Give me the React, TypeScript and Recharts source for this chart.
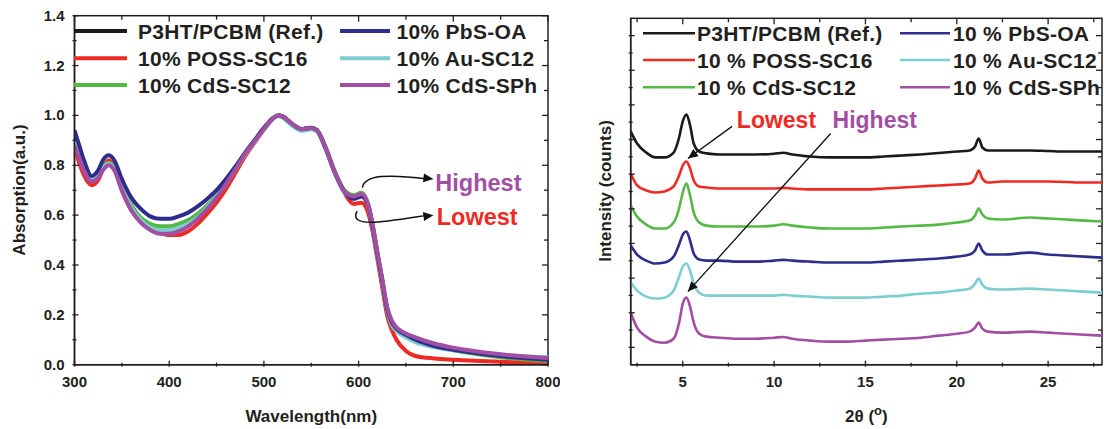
import { LineChart, Line, XAxis, YAxis, Legend, ReferenceLine, ReferenceDot, ReferenceArea } from 'recharts'

const INK = '#231f20'
const FONT = '"Liberation Sans", Arial, Helvetica, sans-serif'

// series order: Ref, POSS-SC16, CdS-SC12, PbS-OA, Au-SC12, CdS-SPh
const seriesKeys = ['ref', 'poss', 'cds12', 'pbs', 'au', 'cdssph']
const seriesColors = ['#1a1a1a', '#ee2a24', '#55b946', '#2e2d8c', '#7dcfcf', '#a24ea4']
const uvNames = ['P3HT/PCBM (Ref.)', '10% POSS-SC16', '10% CdS-SC12', '10% PbS-OA', '10% Au-SC12', '10% CdS-SPh']
const xrdNames = ['P3HT/PCBM (Ref.)', '10 % POSS-SC16', '10 % CdS-SC12', '10 % PbS-OA', '10 % Au-SC12', '10 % CdS-SPh']
const drawOrder = [0, 1, 2, 4, 3, 5]

// ---- UV-vis absorption (normalised) ----
const wavelength = [300, 305, 310, 318, 325, 330, 336, 342, 350, 360, 370, 380, 390, 400, 410, 420, 430, 440, 450, 460, 470, 480, 490, 500, 510, 515, 520, 530, 540, 550, 556, 565, 575, 585, 595, 603, 610, 615, 620, 625, 630, 635, 640, 650, 660, 680, 700, 750, 800]
const absRef = [0.9, 0.84, 0.79, 0.74, 0.755, 0.785, 0.805, 0.785, 0.705, 0.625, 0.575, 0.545, 0.53, 0.53, 0.54, 0.56, 0.59, 0.63, 0.675, 0.728, 0.787, 0.846, 0.896, 0.946, 0.99, 1.0, 0.995, 0.965, 0.945, 0.95, 0.94, 0.87, 0.77, 0.695, 0.67, 0.68, 0.64, 0.55, 0.44, 0.335, 0.225, 0.17, 0.145, 0.12, 0.105, 0.08, 0.062, 0.038, 0.024]
const absPoss = [0.87, 0.81, 0.76, 0.72, 0.74, 0.785, 0.82, 0.79, 0.7, 0.62, 0.575, 0.545, 0.53, 0.52, 0.52, 0.535, 0.565, 0.605, 0.65, 0.705, 0.77, 0.835, 0.89, 0.942, 0.988, 1.0, 0.995, 0.965, 0.945, 0.95, 0.94, 0.87, 0.77, 0.69, 0.645, 0.65, 0.61, 0.53, 0.42, 0.31, 0.2, 0.14, 0.1, 0.055, 0.035, 0.025, 0.02, 0.012, 0.008]
const absCds12 = [0.89, 0.835, 0.785, 0.745, 0.76, 0.79, 0.81, 0.79, 0.715, 0.64, 0.59, 0.565, 0.555, 0.555, 0.565, 0.58, 0.605, 0.64, 0.68, 0.73, 0.788, 0.846, 0.896, 0.946, 0.99, 1.0, 0.995, 0.965, 0.945, 0.952, 0.942, 0.875, 0.775, 0.7, 0.68, 0.69, 0.645, 0.555, 0.445, 0.34, 0.23, 0.172, 0.146, 0.118, 0.1, 0.075, 0.058, 0.03, 0.015]
const absPbs = [0.94, 0.88, 0.82, 0.757, 0.78, 0.82, 0.84, 0.82, 0.745, 0.67, 0.625, 0.595, 0.585, 0.585, 0.595, 0.61, 0.635, 0.665, 0.7, 0.745, 0.795, 0.85, 0.9, 0.95, 0.99, 1.0, 0.995, 0.965, 0.945, 0.95, 0.94, 0.87, 0.77, 0.695, 0.665, 0.675, 0.64, 0.55, 0.44, 0.335, 0.225, 0.17, 0.145, 0.12, 0.1, 0.075, 0.06, 0.035, 0.02]
const absAu = [0.905, 0.85, 0.8, 0.75, 0.765, 0.79, 0.805, 0.785, 0.71, 0.63, 0.58, 0.55, 0.54, 0.54, 0.55, 0.565, 0.59, 0.63, 0.675, 0.725, 0.784, 0.843, 0.893, 0.943, 0.988, 1.0, 0.99, 0.958, 0.938, 0.945, 0.935, 0.865, 0.765, 0.69, 0.67, 0.68, 0.638, 0.545, 0.435, 0.33, 0.22, 0.16, 0.135, 0.11, 0.09, 0.07, 0.058, 0.04, 0.03]
const absCdssph = [0.88, 0.83, 0.78, 0.735, 0.75, 0.78, 0.8, 0.78, 0.7, 0.62, 0.57, 0.54, 0.525, 0.525, 0.535, 0.555, 0.585, 0.625, 0.67, 0.725, 0.785, 0.845, 0.895, 0.945, 0.99, 1.0, 0.995, 0.965, 0.945, 0.95, 0.94, 0.87, 0.77, 0.695, 0.675, 0.685, 0.645, 0.56, 0.45, 0.345, 0.235, 0.178, 0.15, 0.125, 0.11, 0.085, 0.068, 0.042, 0.027]
const uvDomainX: [number, number] = [300, 800]
const uvDomainY: [number, number] = [0, 1.4]
const uvTicksX = [300, 350, 400, 450, 500, 550, 600, 650, 700, 750, 800]
const uvTicksY = [0, 0.1, 0.2, 0.3, 0.4, 0.5, 0.6, 0.7, 0.8, 0.9, 1.0, 1.1, 1.2, 1.3, 1.4]

// ---- XRD (stacked, arbitrary counts) ----
const twoTheta = [2.15, 2.5, 3, 3.5, 4, 4.5, 4.8, 5.0, 5.2, 5.4, 5.6, 5.9, 6.3, 7, 8, 9, 10, 10.5, 11, 12, 13, 14, 15, 16, 17, 18, 19, 20, 20.7, 21.0, 21.2, 21.4, 21.7, 22.5, 24, 25, 26, 27, 27.95]
const xrdRef = [13.47, 12.77, 12.25, 11.97, 11.97, 12.25, 13.12, 14.05, 14.45, 13.82, 12.77, 12.31, 12.2, 12.14, 12.14, 12.14, 12.18, 12.24, 12.14, 12.02, 11.97, 11.97, 11.97, 12.02, 12.08, 12.14, 12.22, 12.31, 12.37, 12.6, 13.06, 12.54, 12.37, 12.37, 12.37, 12.34, 12.31, 12.31, 12.31]
const xrdPoss = [11.04, 10.35, 10.06, 9.94, 10.0, 10.29, 10.92, 11.5, 11.73, 11.33, 10.64, 10.29, 10.23, 10.17, 10.17, 10.17, 10.17, 10.21, 10.17, 10.12, 10.12, 10.12, 10.12, 10.17, 10.23, 10.29, 10.35, 10.4, 10.46, 10.75, 11.21, 10.75, 10.52, 10.58, 10.58, 10.58, 10.55, 10.52, 10.52]
const xrdCds12 = [9.19, 8.55, 8.09, 7.86, 7.86, 8.21, 9.02, 9.94, 10.46, 9.77, 8.79, 8.21, 8.03, 7.98, 7.98, 7.98, 8.03, 8.11, 8.03, 7.92, 7.86, 7.86, 7.86, 7.92, 7.98, 8.03, 8.09, 8.21, 8.32, 8.61, 9.02, 8.67, 8.44, 8.38, 8.5, 8.44, 8.38, 8.32, 8.27]
const xrdPbs = [6.88, 6.36, 6.01, 5.84, 5.9, 6.24, 6.94, 7.51, 7.69, 7.17, 6.42, 6.07, 6.01, 6.01, 5.95, 5.95, 6.01, 6.05, 6.01, 5.95, 5.9, 5.9, 5.9, 5.95, 6.01, 6.07, 6.13, 6.24, 6.36, 6.59, 7.0, 6.59, 6.36, 6.36, 6.47, 6.36, 6.3, 6.24, 6.18]
const xrdAu = [4.74, 4.28, 3.93, 3.82, 3.87, 4.28, 5.09, 5.66, 5.84, 5.43, 4.68, 4.16, 3.99, 3.99, 3.99, 3.99, 3.99, 4.03, 3.99, 3.93, 3.87, 3.87, 3.87, 3.93, 3.99, 4.1, 4.16, 4.28, 4.39, 4.68, 4.97, 4.62, 4.39, 4.34, 4.39, 4.34, 4.28, 4.22, 4.16]
const xrdCdssph = [3.01, 2.14, 1.62, 1.33, 1.27, 1.5, 2.43, 3.53, 3.87, 3.35, 2.43, 1.79, 1.62, 1.56, 1.5, 1.5, 1.56, 1.6, 1.5, 1.39, 1.33, 1.33, 1.39, 1.45, 1.5, 1.56, 1.68, 1.79, 1.91, 2.14, 2.43, 2.08, 1.91, 1.85, 1.91, 1.85, 1.79, 1.73, 1.68]
const xrdDomainX: [number, number] = [2.15, 27.95]
const xrdDomainY: [number, number] = [0, 20]
const xrdTicksX = [2.5, 5, 7.5, 10, 12.5, 15, 17.5, 20, 22.5, 25, 27.5]
const xrdTicksY = [1, 2, 3, 4, 5, 6, 7, 8, 9, 10, 11, 12, 13, 14, 15, 16, 17, 18, 19]

const uvData = wavelength.map((w, i) => ({
  x: w, ref: absRef[i], poss: absPoss[i], cds12: absCds12[i], pbs: absPbs[i], au: absAu[i], cdssph: absCdssph[i],
}))
const xrdData = twoTheta.map((t, i) => ({
  x: t, ref: xrdRef[i], poss: xrdPoss[i], cds12: xrdCds12[i], pbs: xrdPbs[i], au: xrdAu[i], cdssph: xrdCdssph[i],
}))

const uvMajorX = (v: number) => v % 100 === 0
const uvMajorY = (v: number) => Math.round(v * 10) % 2 === 0
const xrdMajorX = (v: number) => v % 5 === 0
const xrdMajorY = (v: number) => v % 2 === 1

// inward ticks on bottom / left axes, labels only on major ticks
const makeTick = (side: 'bottom' | 'left', isMajor: (v: number) => boolean, fmt?: (v: number) => string) => (props: any) => {
  const { x, y, payload } = props
  const v = payload.value
  const major = isMajor(v)
  const len = major ? 6 : 4
  const x2 = side === 'left' ? x + len : x
  const y2 = side === 'bottom' ? y - len : y
  let label = null
  if (fmt && major) {
    label = side === 'bottom'
      ? <text x={x} y={y + 20.5} textAnchor="middle" fontSize={15} fontWeight="bold" fill={INK} fontFamily={FONT}>{fmt(v)}</text>
      : <text x={x - 8} y={y + 5} textAnchor="end" fontSize={15} fontWeight="bold" fill={INK} fontFamily={FONT}>{fmt(v)}</text>
  }
  return (
    <g>
      <line x1={x} y1={y} x2={x2} y2={y2} stroke={INK} strokeWidth={1.3} />
      {label}
    </g>
  )
}

// plot frame with inward ticks on top and right edges
const frameShape = (dx: [number, number], tx: number[], mx: (v: number) => boolean,
  dy: [number, number], ty: number[], my: (v: number) => boolean) => (props: any) => {
  const { x, y, width, height } = props
  const px = (v: number) => x + ((v - dx[0]) / (dx[1] - dx[0])) * width
  const py = (v: number) => y + height - ((v - dy[0]) / (dy[1] - dy[0])) * height
  return (
    <g>
      <rect x={x} y={y} width={width} height={height} fill="none" stroke={INK} strokeWidth={1.5} />
      {tx.map((v) => (
        <line key={'t' + v} x1={px(v)} x2={px(v)} y1={y} y2={y + (mx(v) ? 6 : 4)} stroke={INK} strokeWidth={1.3} />
      ))}
      {ty.map((v) => (
        <line key={'r' + v} x1={x + width} x2={x + width - (my(v) ? 6 : 4)} y1={py(v)} y2={py(v)} stroke={INK} strokeWidth={1.3} />
      ))}
    </g>
  )
}

function arrowHead(cx: number, cy: number, x2: number, y2: number) {
  const a = Math.atan2(y2 - cy, x2 - cx)
  const l = 10
  const w = 4.5
  const bx = x2 - l * Math.cos(a)
  const by = y2 - l * Math.sin(a)
  const px = -Math.sin(a) * w
  const py = Math.cos(a) * w
  return <polygon points={`${x2},${y2} ${bx + px},${by + py} ${bx - px},${by - py}`} fill="#111" />
}

const curvedArrow = (kind: 'over' | 'hook') => (props: any) => {
  const { x1, y1, x2, y2 } = props
  const c1x = kind === 'over' ? x1 + 2 : x1 - 10
  const c1y = kind === 'over' ? y1 - 13 : y1 + 18
  const c2x = x2 - 45
  const c2y = kind === 'over' ? y2 - 5 : y2 + 6
  return (
    <g>
      <path d={`M${x1},${y1} C${c1x},${c1y} ${c2x},${c2y} ${x2 - 6},${y2}`} fill="none" stroke="#111" strokeWidth={1.5} />
      {arrowHead(c2x, c2y, x2, y2)}
    </g>
  )
}

const straightArrow = (props: any) => {
  const { x1, y1, x2, y2 } = props
  return (
    <g>
      <line x1={x1} y1={y1} x2={x2} y2={y2} stroke="#111" strokeWidth={1.3} />
      {arrowHead(x1, y1, x2, y2)}
    </g>
  )
}

const textMark = (text: string, color: string, size: number) => (props: any) => (
  <text x={props.cx} y={props.cy} dominantBaseline="central" fontSize={size} fontWeight="bold" fill={color} fontFamily={FONT}>{text}</text>
)

function legendContent(names: string[], cols: number[][], rows: number[], lineW: number) {
  return () => (
    <svg width={560} height={100} style={{ display: 'block' }}>
      {names.map((n, i) => {
        const c = cols[Math.floor(i / 3)]
        const y = rows[i % 3]
        return (
          <g key={n}>
            <line x1={c[0]} x2={c[1]} y1={y} y2={y} stroke={seriesColors[i]} strokeWidth={lineW} />
            <text x={c[2]} y={y} dominantBaseline="central" fontSize={21} letterSpacing={0.3} fontWeight="bold" fill={INK} fontFamily={FONT}>{n}</text>
          </g>
        )
      })}
    </svg>
  )
}

const axisStroke = { stroke: INK, strokeWidth: 1.5 }

function UvChart() {
  return (
    <LineChart width={560} height={429} data={uvData} margin={{ top: 15.7, right: 12, bottom: 34.3, left: 0 }}>
      <XAxis dataKey="x" type="number" domain={uvDomainX} ticks={uvTicksX} interval={0} height={30}
        tickSize={0} tickLine={false} axisLine={axisStroke} allowDataOverflow
        tick={makeTick('bottom', uvMajorX, (v) => String(v))}
        label={{ content: ({ viewBox }: any) => (
          <text x={viewBox.x + viewBox.width / 2} y={viewBox.y + 57.5} textAnchor="middle" fontSize={17} fontWeight="bold" fill={INK} fontFamily={FONT}>Wavelength(nm)</text>
        ) }} />
      <YAxis type="number" domain={uvDomainY} ticks={uvTicksY} interval={0} width={74.5}
        tickSize={0} tickLine={false} axisLine={axisStroke} allowDataOverflow
        tick={makeTick('left', uvMajorY, (v) => v.toFixed(1))}
        label={{ content: () => (
          <text x={19} y={190} transform="rotate(-90 19 190)" textAnchor="middle" dominantBaseline="central" fontSize={17} fontWeight="bold" fill={INK} fontFamily={FONT}>Absorption(a.u.)</text>
        ) }} />
      <ReferenceArea x1={uvDomainX[0]} x2={uvDomainX[1]} y1={uvDomainY[0]} y2={uvDomainY[1]} ifOverflow="visible"
        shape={frameShape(uvDomainX, uvTicksX, uvMajorX, uvDomainY, uvTicksY, uvMajorY)} />
      {drawOrder.map((i) => (
        <Line key={seriesKeys[i]} dataKey={seriesKeys[i]} name={uvNames[i]} type="monotone" stroke={seriesColors[i]}
          strokeWidth={4} dot={false} activeDot={false} isAnimationActive={false} />
      ))}
      <ReferenceLine segment={[{ x: 604, y: 0.71 }, { x: 679, y: 0.745 }]} ifOverflow="visible" shape={curvedArrow('over')} />
      <ReferenceLine segment={[{ x: 598.5, y: 0.616 }, { x: 679, y: 0.6 }]} ifOverflow="visible" shape={curvedArrow('hook')} />
      <ReferenceDot x={681} y={0.73} ifOverflow="visible" shape={textMark('Highest', '#a24ea4', 23.5)} />
      <ReferenceDot x={682.5} y={0.592} ifOverflow="visible" shape={textMark('Lowest', '#ee2a24', 23.5)} />
      <Legend layout="vertical" align="center" verticalAlign="middle"
        wrapperStyle={{ position: 'absolute', left: 0, top: 0, width: 560, height: 100 }}
        content={legendContent(uvNames, [[74, 127, 138], [340, 390, 396.5]], [31, 58.3, 85], 4)} />
    </LineChart>
  )
}

function XrdChart() {
  return (
    <LineChart width={544} height={429} data={xrdData} margin={{ top: 18.3, right: 2, bottom: 34.3, left: 0 }}>
      <XAxis dataKey="x" type="number" domain={xrdDomainX} ticks={xrdTicksX} interval={0} height={30}
        tickSize={0} tickLine={false} axisLine={axisStroke} allowDataOverflow
        tick={makeTick('bottom', xrdMajorX, (v) => String(v))}
        label={{ content: ({ viewBox }: any) => (
          <text x={viewBox.x + viewBox.width / 2} y={viewBox.y + 57} textAnchor="middle" fontSize={17} fontWeight="bold" fill={INK} fontFamily={FONT}>
            2θ (<tspan dy={-7} fontSize={13}>o</tspan><tspan dy={7}>)</tspan>
          </text>
        ) }} />
      <YAxis type="number" domain={xrdDomainY} ticks={xrdTicksY} interval={0} width={70.7}
        tickSize={0} tickLine={false} axisLine={axisStroke} allowDataOverflow
        tick={makeTick('left', xrdMajorY)}
        label={{ content: () => (
          <text x={45} y={191} transform="rotate(-90 45 191)" textAnchor="middle" dominantBaseline="central" fontSize={17} fontWeight="bold" fill={INK} fontFamily={FONT}>Intensity (counts)</text>
        ) }} />
      <ReferenceArea x1={xrdDomainX[0]} x2={xrdDomainX[1]} y1={xrdDomainY[0]} y2={xrdDomainY[1]} ifOverflow="visible"
        shape={frameShape(xrdDomainX, xrdTicksX, xrdMajorX, xrdDomainY, xrdTicksY, xrdMajorY)} />
      {drawOrder.map((i) => (
        <Line key={seriesKeys[i]} dataKey={seriesKeys[i]} name={xrdNames[i]} type="monotone" stroke={seriesColors[i]}
          strokeWidth={2.6} dot={false} activeDot={false} isAnimationActive={false} />
      ))}
      <ReferenceLine segment={[{ x: 7.7, y: 13.76 }, { x: 5.28, y: 11.9 }]} ifOverflow="visible" shape={straightArrow} />
      <ReferenceLine segment={[{ x: 13.1, y: 13.35 }, { x: 5.28, y: 4.22 }]} ifOverflow="visible" shape={straightArrow} />
      <ReferenceDot x={7.96} y={14.1} ifOverflow="visible" shape={textMark('Lowest', '#ee2a24', 23)} />
      <ReferenceDot x={13.2} y={14.1} ifOverflow="visible" shape={textMark('Highest', '#a24ea4', 23)} />
      <Legend layout="vertical" align="center" verticalAlign="middle"
        wrapperStyle={{ position: 'absolute', left: 0, top: 0, width: 544, height: 100 }}
        content={legendContent(xrdNames, [[83, 135, 137], [340, 390, 393]], [33.3, 60, 87.3], 2.5)} />
    </LineChart>
  )
}

export default function App() {
  return (
    <div style={{ position: 'absolute', left: 0, top: 0, width: 1104, height: 429, background: '#fff', fontFamily: FONT }}>
      <div style={{ position: 'absolute', left: 0, top: 0 }}>
        <UvChart />
      </div>
      <div style={{ position: 'absolute', left: 560, top: 0 }}>
        <XrdChart />
      </div>
    </div>
  )
}
